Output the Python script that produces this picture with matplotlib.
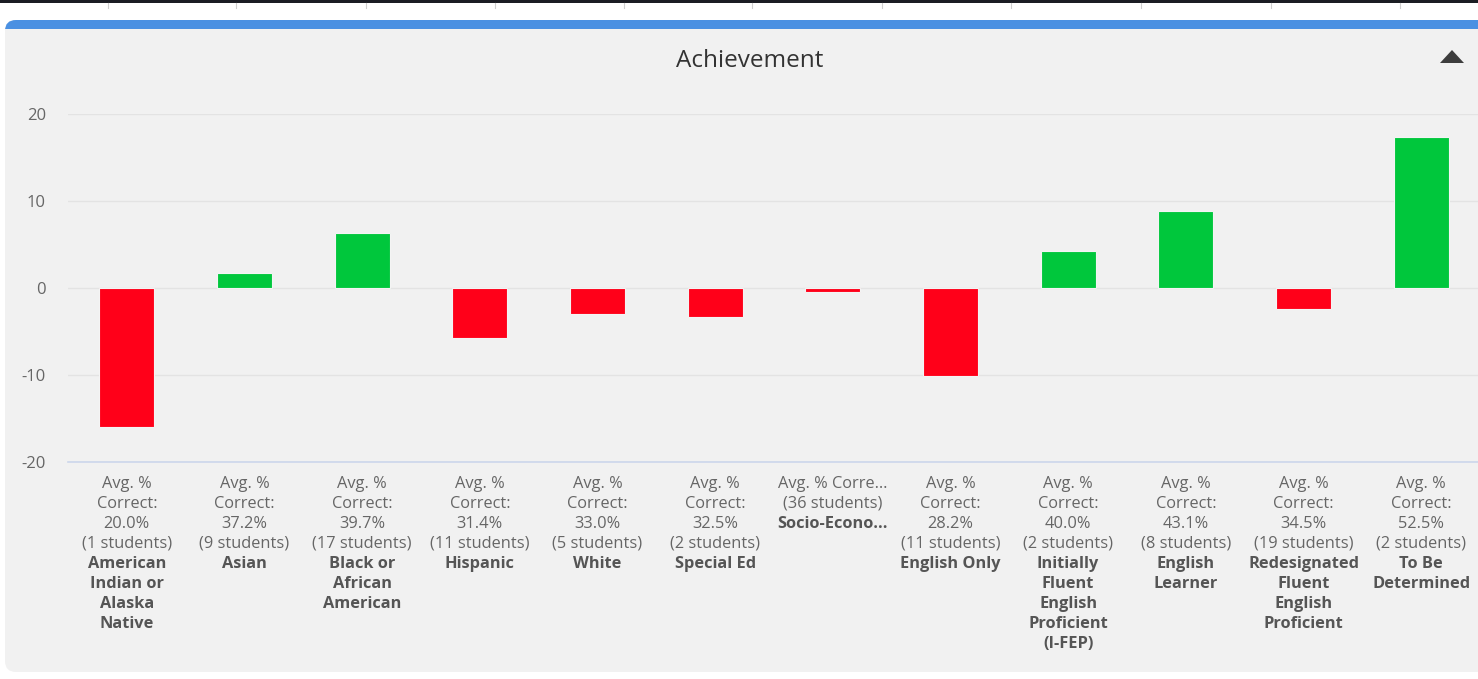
import matplotlib
matplotlib.use("Agg")
import matplotlib.pyplot as plt
import matplotlib.transforms as mtransforms
from matplotlib.patches import FancyBboxPatch, Polygon, Rectangle

# ---------------- data ----------------
group_names = [
    "American\nIndian or\nAlaska\nNative",
    "Asian",
    "Black or\nAfrican\nAmerican",
    "Hispanic",
    "White",
    "Special Ed",
    "Socio-Econo…",
    "English Only",
    "Initially\nFluent\nEnglish\nProficient\n(I-FEP)",
    "English\nLearner",
    "Redesignated\nFluent\nEnglish\nProficient",
    "To Be\nDetermined",
]
avg_correct = [20.0, 37.2, 39.7, 31.4, 33.0, 32.5, None, 28.2, 40.0, 43.1, 34.5, 52.5]
students = [1, 9, 17, 11, 5, 2, 36, 11, 2, 8, 19, 2]
difference = [-16.0, 1.7, 6.3, -5.8, -3.0, -3.3, -0.5, -10.1, 4.3, 8.8, -2.4, 17.4]
y_ticks = [-20, -10, 0, 10, 20]
title = "Achievement"

RED = "#ff0019"
GREEN = "#00c73c"

plt.rcParams["font.family"] = ["Open Sans", "DejaVu Sans"]

W, H = 1478, 679
fig = plt.figure(figsize=(W / 100, H / 100), dpi=100)
fig.patch.set_facecolor("white")

# ---------------- background / panel ----------------
bg = fig.add_axes([0, 0, 1, 1], zorder=0)
bg.set_xlim(0, W)
bg.set_ylim(H, 0)
bg.axis("off")

bg.add_patch(Rectangle((0, 0), W, 2.5, facecolor="#1b1d23", edgecolor="none"))
for tx in [108, 236, 366, 495, 624, 752, 882, 1011, 1141, 1271, 1400]:
    bg.plot([tx, tx], [2.5, 8], color="#cfcfcf", lw=0.8)

bg.add_patch(FancyBboxPatch((5, 20), 1500, 652, boxstyle="round,pad=0,rounding_size=11",
                            facecolor="#f1f1f1", edgecolor="none"))
bg.add_patch(FancyBboxPatch((5, 20), 1500, 30, boxstyle="round,pad=0,rounding_size=11",
                            facecolor="#4a90e2", edgecolor="none"))
bg.add_patch(Rectangle((5, 29), 1500, 30, facecolor="#f1f1f1", edgecolor="none"))
bg.text(750, 61, title, ha="center", va="center", fontsize=17.5, color="#333333")
bg.add_patch(Polygon([(1440, 63), (1464, 63), (1452, 50)], closed=True,
                     facecolor="#3d3d3d", edgecolor="none"))

# ---------------- chart ----------------
left_px, right_px, top_px, bottom_px = 68, 1480, 114, 462
ax = fig.add_axes([left_px / W, 1 - bottom_px / H, (right_px - left_px) / W,
                   (bottom_px - top_px) / H], zorder=1)
ax.set_facecolor("none")

x = list(range(len(difference)))
colors = [GREEN if d >= 0 else RED for d in difference]
ax.bar(x, difference, width=0.47, color=colors, edgecolor="#f4f4f4", linewidth=0.8, zorder=3)

ax.set_xlim(-0.5, len(x) - 0.5)
ax.set_ylim(-20, 20)
ax.set_yticks(y_ticks)
ax.set_yticklabels([str(t) for t in y_ticks])
ax.tick_params(axis="y", length=0, pad=16, labelsize=12, labelcolor="#666666")
ax.set_xticks([])
ax.yaxis.grid(True, color="#e3e3e3", lw=1)
ax.set_axisbelow(True)
for s in ["top", "left", "right"]:
    ax.spines[s].set_visible(False)
ax.spines["bottom"].set_color("#ccd6eb")
ax.spines["bottom"].set_linewidth(1.2)

# ---------------- category labels ----------------
trans = mtransforms.blended_transform_factory(ax.transData, ax.transAxes)
line_px = 20
for i in x:
    if avg_correct[i] is None:
        normal = ["Avg. % Corre…", f"({students[i]} students)"]
    else:
        normal = ["Avg. %", "Correct:", f"{avg_correct[i]:.1f}%", f"({students[i]} students)"]
    bold = group_names[i].split("\n")
    lines = [(t, "normal", "#666666") for t in normal] + [(t, "bold", "#555555") for t in bold]
    for k, (t, fw, c) in enumerate(lines):
        ax.annotate(t, xy=(i, 0), xycoords=trans,
                    xytext=(0, -(22 + line_px * k) * 0.72), textcoords="offset points",
                    ha="center", va="center", fontsize=11.8, fontweight=fw, color=c,
                    annotation_clip=False)

fig.savefig("out.png", dpi=100)
